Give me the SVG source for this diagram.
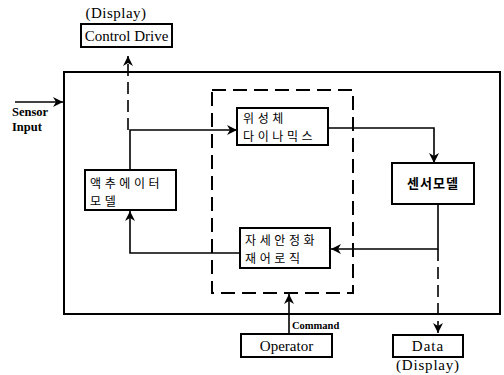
<svg xmlns="http://www.w3.org/2000/svg" width="504" height="375" viewBox="0 0 504 375">
<defs>
<marker id="ah" viewBox="0 0 10 10" refX="10" refY="5" markerWidth="10" markerHeight="10" markerUnits="userSpaceOnUse" orient="auto">
<path d="M0,0 L10,5 L0,10 L3,5 Z" fill="#000"/>
</marker>
</defs>
<style>
.box{fill:#fff;stroke:#000;stroke-width:2}
.frame{fill:none;stroke:#000;stroke-width:2}
.dash{fill:none;stroke:#000;stroke-width:2;stroke-dasharray:14,7}
.ln{fill:none;stroke:#000;stroke-width:1.6}
.dl{fill:none;stroke:#000;stroke-width:1.6;stroke-dasharray:12,6}
.ko{font-family:"Noto Sans CJK KR","Noto Sans",sans-serif;font-size:12px;letter-spacing:3.6px;fill:#000}
.kob{font-family:"Noto Sans CJK KR","Noto Sans",sans-serif;font-size:13px;font-weight:bold;letter-spacing:1px;fill:#000}
.en{font-family:"Liberation Serif","Times New Roman",serif;font-size:15px;fill:#000}
.enb{font-family:"Liberation Serif","Times New Roman",serif;font-size:12.5px;font-weight:bold;fill:#000}
.sm{font-family:"Liberation Serif","Times New Roman",serif;font-size:10.5px;font-weight:bold;fill:#000}
</style>
<rect x="64" y="72" width="436" height="242" class="frame"/>
<rect x="212" y="90" width="141" height="203" class="dash"/>
<g id="connectors">
<path d="M128,130 L128,56" class="dl" marker-end="url(#ah)"/>
<path d="M15,102 L63,102" class="ln" marker-end="url(#ah)"/>
<path d="M130,170 L130,130 L237,130" class="ln" marker-end="url(#ah)"/>
<path d="M328,128 L434,128 L434,163" class="ln" marker-end="url(#ah)"/>
<path d="M438,204 L438,249 L331,249" class="ln" marker-end="url(#ah)"/>
<path d="M438,249 L438,333" class="dl" marker-end="url(#ah)"/>
<path d="M240,253 L130,253 L130,211" class="ln" marker-end="url(#ah)"/>
<path d="M289,334 L289,294" class="ln" marker-end="url(#ah)"/>
</g>
<g id="control-drive">
<text x="116" y="18" text-anchor="middle" class="en" letter-spacing="0.5">(Display)</text>
<rect x="81" y="24" width="91" height="23" class="box"/>
<text x="126.5" y="41" text-anchor="middle" class="en">Control Drive</text>
</g>
<g id="sensor-input">
<text x="12" y="116" class="enb">Sensor</text>
<text x="12" y="131" class="enb">Input</text>
</g>
<g id="satellite-dynamics">
<rect x="237" y="108" width="91" height="37" class="box"/>
<text x="243" y="123" class="ko">위성체</text>
<text x="243" y="141" class="ko">다이나믹스</text>
</g>
<g id="actuator-model">
<rect x="85" y="170" width="91" height="40" class="box"/>
<text x="90" y="188" class="ko">액추에이터</text>
<text x="90" y="206" class="ko">모델</text>
</g>
<g id="sensor-model">
<rect x="392" y="163" width="82" height="41" class="box"/>
<text x="433" y="188" text-anchor="middle" class="kob">센서모델</text>
</g>
<g id="attitude-control">
<rect x="240" y="228" width="90" height="40" class="box"/>
<text x="245" y="245" class="ko">자세안정화</text>
<text x="245" y="263" class="ko">재어로직</text>
</g>
<g id="operator">
<text x="292" y="329" class="sm">Command</text>
<rect x="241" y="334" width="91" height="23" class="box"/>
<text x="286.5" y="351" text-anchor="middle" class="en">Operator</text>
</g>
<g id="data">
<rect x="393" y="335" width="70" height="22" class="box"/>
<text x="428" y="351" text-anchor="middle" class="en" letter-spacing="1">Data</text>
<text x="428" y="370" text-anchor="middle" class="en" letter-spacing="0.8">(Display)</text>
</g>
</svg>
